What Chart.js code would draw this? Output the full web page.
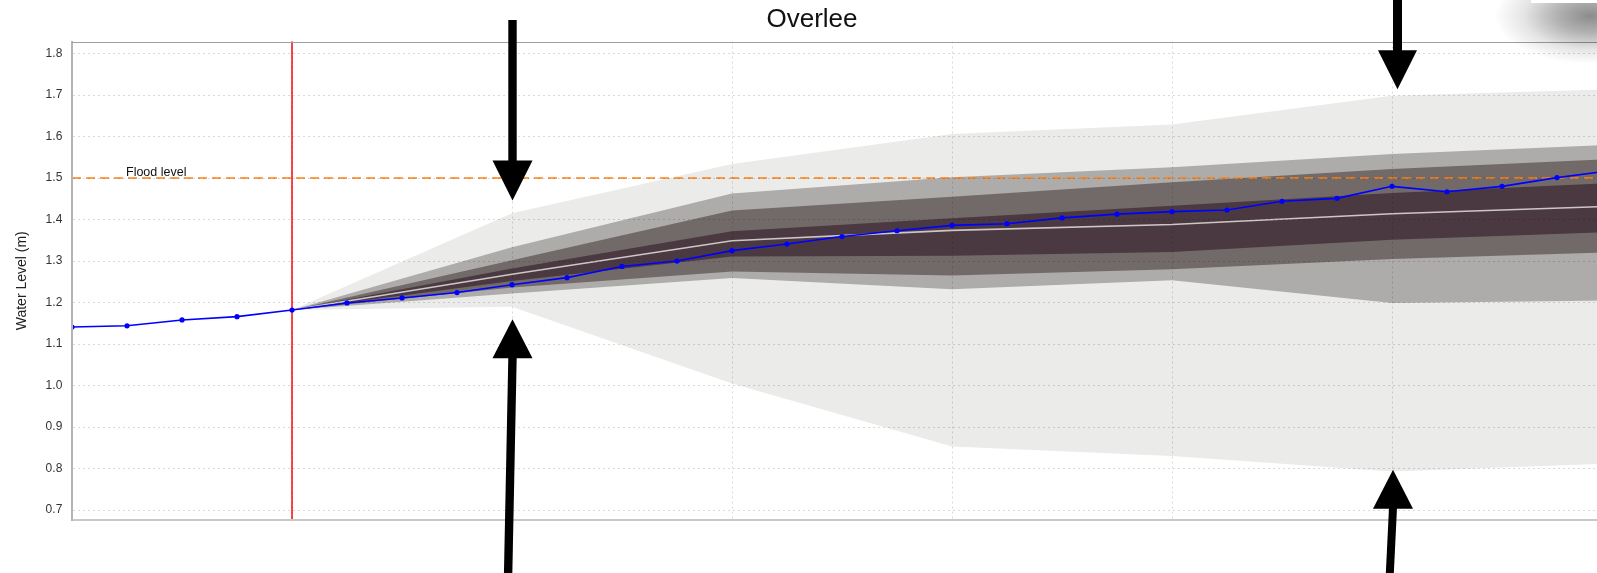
<!DOCTYPE html>
<html><head><meta charset="utf-8">
<script src="https://cdn.jsdelivr.net/npm/chart.js@4.4.1/dist/chart.umd.min.js"></script>
<style>
html,body{margin:0;padding:0;background:#fff;overflow:hidden;width:1597px;height:573px;}
#wrap{position:relative;width:1624px;height:573px;}
canvas{display:block;}
#shade{position:absolute;left:1480px;top:0;width:144px;height:70px;
  background:radial-gradient(ellipse 95px 48px at 110px 16px, rgba(0,0,0,0.45) 0%, rgba(0,0,0,0.3) 35%, rgba(0,0,0,0.1) 70%, rgba(0,0,0,0) 100%);}
#strip{position:absolute;left:1531px;top:0;width:93px;height:3px;background:#fff;}
</style></head><body>
<div id="wrap"><canvas id="c" width="1624" height="573"></canvas><div id="shade"></div><div id="strip"></div></div>
<script>
// ---- text ----
const chartTitle = 'Overlee';
const yAxisTitle = 'Water Level (m)';
const floodLabel = 'Flood level';

// ---- reference values ----
const floodLevel = 1.5;
const forecastStart = 4;      // step index of the "now" line
const floodLabelAt = 1;       // step index where the label starts

// ---- observed / forecast water level per step (0..28) ----
const waterLevel = [1.141, 1.144, 1.158, 1.166, 1.182, 1.199, 1.211, 1.224, 1.243, 1.260,
                    1.287, 1.300, 1.325, 1.341, 1.359, 1.373, 1.386, 1.390, 1.404, 1.413,
                    1.419, 1.423, 1.444, 1.451, 1.480, 1.467, 1.480, 1.501, 1.518];

// ---- ensemble spread at knot steps ----
const knotSteps   = [4, 8, 12, 16, 20, 24, 28];
const outerUpper  = [1.182, 1.415, 1.534, 1.606, 1.629, 1.698, 1.714];
const wideUpper   = [1.182, 1.333, 1.463, 1.502, 1.526, 1.558, 1.580];
const midUpper    = [1.182, 1.302, 1.422, 1.455, 1.490, 1.522, 1.546];
const innerUpper  = [1.182, 1.282, 1.372, 1.403, 1.433, 1.464, 1.488];
const medianLevel = [1.182, 1.268, 1.349, 1.374, 1.388, 1.414, 1.432];
const innerLower  = [1.182, 1.252, 1.311, 1.313, 1.322, 1.351, 1.370];
const midLower    = [1.182, 1.236, 1.275, 1.265, 1.280, 1.305, 1.321];
const wideLower   = [1.182, 1.222, 1.259, 1.232, 1.254, 1.199, 1.205];
const outerLower  = [1.182, 1.190, 1.005, 0.853, 0.830, 0.793, 0.812];

// ---- axis ticks ----
const yTicks = [0.7, 0.8, 0.9, 1.0, 1.1, 1.2, 1.3, 1.4, 1.5, 1.6, 1.7, 1.8];
const yMin = 0.676, yMax = 1.829;
const xMin = 0, xMax = 28, xGridStep = 4;

const FONT = "'Liberation Sans', Arial, Helvetica, sans-serif";
Chart.defaults.font.family = FONT;

const knotPts = arr => arr.map((v, i) => ({x: knotSteps[i], y: v}));
const band = (arr, fill, color, order) => ({
  data: knotPts(arr), borderWidth: 0, pointRadius: 0, fill: fill,
  backgroundColor: color, borderColor: color, order: order, tension: 0
});

const overlay = {
  id: 'overlay',
  beforeDatasetDraw(chart, args) {
    if (args.index !== 1) return;
    const {ctx, chartArea: a, scales: {x, y}} = chart;
    ctx.save();
    const fy = y.getPixelForValue(floodLevel);
    ctx.setLineDash([9, 5]);
    ctx.strokeStyle = 'rgba(255,128,20,0.75)';
    ctx.lineWidth = 2;
    ctx.beginPath(); ctx.moveTo(a.left, fy); ctx.lineTo(a.right, fy); ctx.stroke();
    ctx.setLineDash([]);
    ctx.fillStyle = '#111';
    ctx.font = '12.5px ' + FONT;
    ctx.textAlign = 'left'; ctx.textBaseline = 'alphabetic';
    ctx.fillText(floodLabel, x.getPixelForValue(floodLabelAt) - 1, fy - 2.5);
    const rx = x.getPixelForValue(forecastStart);
    ctx.strokeStyle = '#ff4646';
    ctx.lineWidth = 2;
    ctx.beginPath(); ctx.moveTo(rx, a.top); ctx.lineTo(rx, a.bottom); ctx.stroke();
    ctx.restore();
  },
  afterDraw(chart) {
    const {ctx, chartArea: a, scales: {x, y}} = chart;
    ctx.save();
    ctx.strokeStyle = '#a0a0a0'; ctx.lineWidth = 1;
    ctx.beginPath(); ctx.moveTo(a.left, Math.round(a.top) + 0.5); ctx.lineTo(a.right, Math.round(a.top) + 0.5); ctx.stroke();
    // annotation arrows
    const arrow = (tipX, tipY, dir, headLen, headHalf, shaftHalf, tailX, tailY) => {
      const baseY = tipY - dir * headLen;
      ctx.fillStyle = '#000';
      ctx.beginPath();
      ctx.moveTo(tipX, tipY);
      ctx.lineTo(tipX - headHalf, baseY);
      ctx.lineTo(tipX + headHalf, baseY);
      ctx.closePath(); ctx.fill();
      ctx.beginPath();
      ctx.moveTo(tipX - shaftHalf, baseY + dir);
      ctx.lineTo(tailX - shaftHalf, tailY);
      ctx.lineTo(tailX + shaftHalf, tailY);
      ctx.lineTo(tipX + shaftHalf, baseY + dir);
      ctx.closePath(); ctx.fill();
    };
    const x8 = x.getPixelForValue(8), x24 = x.getPixelForValue(24);
    arrow(x8 + 0.5, y.getPixelForValue(1.446), 1, 40, 20, 4.2, x8 + 0.5, 20);
    arrow(x8 + 0.5, y.getPixelForValue(1.160), -1, 39, 20, 4.2, x8 - 4, 580);
    arrow(x24 + 5.5, y.getPixelForValue(1.714), 1, 39, 19.5, 4.5, x24 + 5.5, -5);
    arrow(x24 + 1, y.getPixelForValue(0.797), -1, 39, 20, 4, x24 - 2.5, 580);
    ctx.restore();
  }
};

new Chart(document.getElementById('c'), {
  type: 'line',
  data: {
    datasets: [
      { data: waterLevel.map((v, i) => ({x: i, y: v})), borderColor: '#0000ff', backgroundColor: '#0000ff',
        borderWidth: 1.6, pointRadius: 2.6, pointBorderWidth: 0, fill: false, order: 1, tension: 0 },
      { data: knotPts(medianLevel), borderColor: '#cdc6c6', borderWidth: 1.6, pointRadius: 0, fill: false, order: 2, tension: 0 },
      band(innerUpper, '+1', '#4b3941', 3),
      band(innerLower, false, '#4b3941', 3),
      band(midUpper, '+1', '#726a69', 4),
      band(midLower, false, '#726a69', 4),
      band(wideUpper, '+1', '#adacaa', 5),
      band(wideLower, false, '#adacaa', 5),
      band(outerUpper, '+1', '#ebebe9', 6),
      band(outerLower, false, '#ebebe9', 6)
    ]
  },
  options: {
    responsive: false,
    animation: false,
    layout: { padding: { left: 12, right: 12, top: 0, bottom: 53 } },
    plugins: {
      legend: { display: false },
      tooltip: { enabled: false },
      title: { display: true, text: chartTitle, color: '#111',
               font: { size: 26, weight: 'normal', family: FONT, lineHeight: 1.2 },
               padding: { top: 4.4, bottom: 5.9 } }
    },
    scales: {
      x: {
        type: 'linear', min: xMin, max: xMax,
        ticks: { display: false, stepSize: xGridStep },
        grid: { z: 1, color: 'rgba(0,0,0,0.15)', lineWidth: 1, drawTicks: false },
        border: { display: true, z: 2, color: '#c8c8c8', width: 2, dash: [2, 3] },
        afterFit: s => { s.height = 0; }
      },
      y: {
        type: 'linear', min: yMin, max: yMax,
        afterBuildTicks: s => { s.ticks = yTicks.map(v => ({value: v})); },
        ticks: { color: '#333', font: { size: 12 }, padding: 9.7, callback: v => Number(v).toFixed(1) },
        grid: { z: 1, color: 'rgba(0,0,0,0.15)', lineWidth: 1, drawTicks: false },
        border: { display: true, z: 2, color: '#b4b4b4', width: 2, dash: [2, 3] },
        title: { display: true, text: yAxisTitle, color: '#222', font: { size: 14 }, padding: { top: 2, bottom: 0 } },
        afterFit: s => { s.width = 60; }
      }
    }
  },
  plugins: [overlay]
});
</script>
</body></html>
